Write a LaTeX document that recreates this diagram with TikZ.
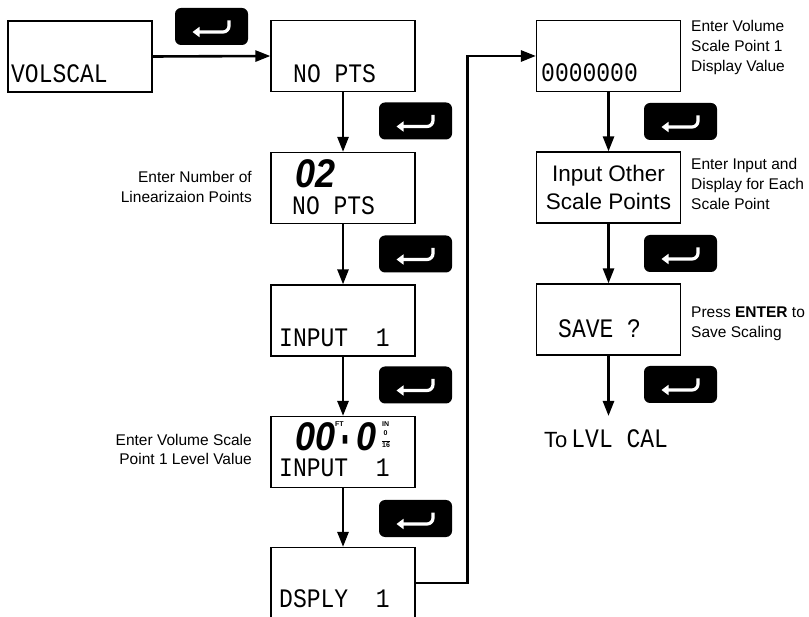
\documentclass[tikz,border=0pt]{standalone}
\usepackage{fontspec}
\setmainfont{Liberation Sans}
\newfontfamily\lcdfont{Liberation Mono}
\usetikzlibrary{arrows.meta}
\newcommand{\lcdtxt}[1]{\scalebox{1}[1.16]{\lcdfont\fontsize{23}{23}\selectfont #1}}
\newcommand{\bigdig}[1]{\scalebox{0.9}[1]{\fontsize{40}{40}\selectfont\bfseries\itshape #1}}
\tikzset{
  disp/.style={draw=black, line width=1.2pt, minimum width=144pt, minimum height=71pt, inner sep=0pt, fill=white},
  lcd/.style={inner sep=0pt, anchor=base west},
  note/.style={font=\fontsize{15.5}{20}\selectfont, inner sep=0pt},
  flow/.style={line width=2.6pt, -{Triangle[length=15pt,width=11pt]}},
  enterkey/.style={fill=black, rounded corners=6pt, minimum width=73pt, minimum height=37pt, inner sep=0pt,
    path picture={\draw[white, line width=3.2pt, rounded corners=6pt, -{Triangle[length=7pt,width=10pt]}]
      ([shift={(17.5pt,6pt)}]path picture bounding box.center) -- ([shift={(17.5pt,-5.5pt)}]path picture bounding box.center) -- ([shift={(-19pt,-5.5pt)}]path picture bounding box.center);}},
  tiny/.style={inner sep=0pt, font=\fontsize{7}{7}\selectfont\bfseries},
}
\begin{document}
\begin{tikzpicture}[x=1pt,y=-1pt]
\fill[white] (0,0) rectangle (809,617);
\useasboundingbox (0,0) rectangle (809,617);

% display boxes
\node[disp] (b1) at (80,56.5) {};
\node[disp] (b2) at (343,56) {};
\node[disp] (b3) at (343,188) {};
\node[disp] (b4) at (343,320.5) {};
\node[disp] (b5) at (343,452) {};
\node[disp] (b6) at (343,583) {};
\node[disp] (b7) at (608.5,56) {};
\node[disp, align=center, font=\fontsize{22.5}{28}\selectfont] (b8) at (608.5,187.5) {Input Other\\Scale Points};
\node[disp] (b9) at (608.5,319.5) {};

% LCD texts
\node[lcd] (t1) at (11,83) {\lcdtxt{VOLSCAL}};
\node[lcd] (t2) at (293,83) {\lcdtxt{NO PTS}};
\node[lcd] (t3a) at (295,188) {\bigdig{02}};
\node[lcd] (t3) at (292,215) {\lcdtxt{NO PTS}};
\node[lcd] (t4) at (279,347) {\lcdtxt{INPUT~~1}};
\node[lcd] (t5a) at (295,451) {\bigdig{00}};
\node[tiny, anchor=base west] (t5ft) at (335,427) {FT};
\node[lcd] (t5d) at (342.5,459) {\scalebox{0.6}[2.4]{\fontsize{30}{30}\selectfont\bfseries -}};
\node[lcd] (t5b) at (356,451) {\bigdig{0}};
\node[tiny, anchor=base west] (t5in) at (382,427) {IN};
\node[tiny, anchor=base west] (t5n) at (383.5,436) {0};
\node[tiny, anchor=base west] (t5m) at (382,448) {16};
\draw[line width=0.8pt] (t5m.north west) ++(0,-1.5) -- ++(8,0);
\node[lcd] (t5) at (279,477) {\lcdtxt{INPUT~~1}};
\node[lcd] (t6) at (279,607) {\lcdtxt{DSPLY~~1}};
\node[lcd] (t7) at (541,82) {\lcdtxt{0000000}};
\node[lcd] (t9) at (558,338) {\lcdtxt{SAVE ?}};

% enter keys
\node[enterkey] (k1) at (211.5,26.5) {};
\node[enterkey] (k2) at (415.5,121) {};
\node[enterkey] (k3) at (415.5,254) {};
\node[enterkey] (k4) at (415.5,385) {};
\node[enterkey] (k5) at (415.5,518.5) {};
\node[enterkey] (k6) at (680.5,121.5) {};
\node[enterkey] (k7) at (680.5,253.5) {};
\node[enterkey] (k8) at (680.5,384.5) {};

% notes (base = baseline of last line)
\node[note, align=right, anchor=base east] (n1) at (252,203) {Enter Number of\\Linearizaion Points};
\node[note, align=right, anchor=base east] (n2) at (252,465) {Enter Volume Scale\\Point 1 Level Value};
\node[note, align=left, anchor=base west] (n3) at (691,72) {Enter Volume\\Scale Point 1\\Display Value};
\node[note, align=left, anchor=base west] (n4) at (691,210) {Enter Input and\\Display for Each\\Scale Point};
\node[note, align=left, anchor=base west] (n5) at (691,338) {Press \textbf{ENTER} to\\Save Scaling};

% end text
\coordinate (endp) at (608.5,416);
\node[lcd] (t10) at (544,448) {{\fontsize{22}{22}\selectfont To}\hspace{4pt}\lcdtxt{LVL CAL}};

% connectors
\draw[flow] (b1.east) -- (b2.west);
\draw[flow] (b2.south) -- (b3.north);
\draw[flow] (b3.south) -- (b4.north);
\draw[flow] (b4.south) -- (b5.north);
\draw[flow] (b5.south) -- (b6.north);
\draw[flow] (b6.east) -- ++(52,0) |- (b7.west);
\draw[flow] (b7.south) -- (b8.north);
\draw[flow] (b8.south) -- (b9.north);
\draw[flow] (b9.south) -- (endp);
\end{tikzpicture}
\end{document}
